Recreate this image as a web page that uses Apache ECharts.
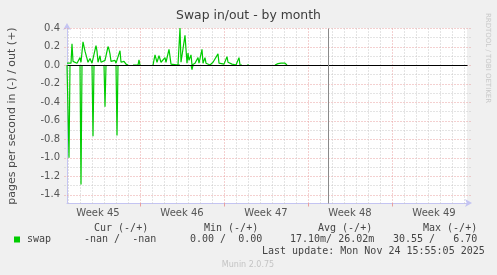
<!DOCTYPE html>
<html>
<head>
<meta charset="utf-8">
<script src="https://cdn.jsdelivr.net/npm/echarts@6/dist/echarts.min.js"></script>
<style>
html,body{margin:0;padding:0;background:#f0f0f0;}
#c{width:497px;height:275px;}
</style>
</head>
<body>
<div id="c"></div>
<script>
// ---- data (x = hours since Mon 3 Nov 2025 00:00, start of Week 45) ----
const firstWeek = 45;
const weekLabels = ['Week 45', 'Week 46', 'Week 47', 'Week 48', 'Week 49'];
const yTickLabels = [-1.4, -1.2, -1.0, -0.8, -0.6, -0.4, -0.2, 0.0, 0.2, 0.4];
const xStart = 22, xEnd = 822;        // visible time window (hours)
const yMin = -1.49, yMax = 0.4;
const nowMarker = 544;                 // vertical rule (hours)

// swap out (+), pages per second
const outHours = [22,26,30,32,34,38,42,46,48,50,54,58,60,64,68,72,76,80,82,84,88,90,94,98,100,104,106,108,110,114,118,120,124,128,130,132,136,140,144,146,
  154,164,166,168,170,
  194,198,202,206,210,214,218,220,224,226,230,234,244,246,248,250,252,254,258,262,264,266,268,270,272,274,278,282,284,286,290,292,294,298,300,304,308,314,318,324,326,330,336,340,342,344,348,352,360,364,366,368,372,374,
  382,384,386,388,
  438,440,444,448,450,454,458,460,462];
const outRate = [0.02,0.03,0.02,0.23,0.04,0.03,0.02,0.03,0.08,0.03,0.25,0.15,0.14,0.03,0.07,0.02,0.02,0.21,0.15,0.03,0.10,0.03,0.02,0.05,0.03,0.20,0.17,0.12,0.04,0.02,0.05,0.02,0.04,0.155,0.03,0.02,0.04,0.01,0,null,
  0,0,0.055,0,null,
  0,0.11,0.03,0.10,0.03,0.04,0.08,0.03,0.05,0.17,0.01,0,0,0.02,0.40,0.03,0.04,0.03,0.32,0.02,0.13,0.05,0.04,0.11,0,0.01,0.02,0.02,0.08,0.02,0.03,0.17,0.02,0.08,0.02,0.01,0,0.03,0.02,0.12,0.02,0.01,0.01,0.02,0.09,0.03,0.03,0.01,0,0.02,0.08,0,0,null,
  0,0.015,0,null,
  0,0.01,0.015,0.01,0.02,0.015,0.02,0.01,0];

// swap in (-), pages per second (drawn below zero)
const inHours = [22,24,26,28,30, 48,50,52,54, 72,74,76,78, 96,98,100,102, 120,122,124,126, 244,246,248,250, 270,272,274];
const inRate  = [0,0,1.00,0,null, 0,1.29,0,null, 0,0.77,0,null, 0,0.45,0,null, 0,0.76,0,null, 0,0.01,0,null, 0,0.05,0];

// legend statistics
const legendName = 'swap';
const statHeaders = ['Cur (-/+)', 'Min (-/+)', 'Avg (-/+)', 'Max (-/+)'];
const statValues = ['-nan /  -nan', '0.00 /  0.00', '17.10m/ 26.02m', '30.55 /   6.70'];
const lastUpdate = 'Last update: Mon Nov 24 15:55:05 2025';

// ---- build ----
const outData = outHours.map((h, i) => [h, outRate[i]]);
const inData = inHours.map((h, i) => [h, inRate[i] == null ? null : -inRate[i]]);
const weekCenters = weekLabels.map((_, i) => 168 * i + 84);

const gridData = [];
for (let t = -14; t <= 4; t++) gridData.push([xStart, t / 10, (t % 2 === 0) ? 1 : 0]);        // horizontal
for (let h = 24; h < xEnd; h += 24) gridData.push([h, 0, (h % 168 === 0) ? 3 : 2]);           // vertical

const AXIS = '#c4c4f2', MINOR = '#c9c9c9', MAJOR = '#e8a0a0';

const chart = echarts.init(document.getElementById('c'), null, {renderer: 'canvas'});
const mono = '"DejaVu Sans Mono", monospace';
const sans = '"DejaVu Sans", sans-serif';
const colX = [94, 204, 318, 423];
const valX = [84, 190, 290, 393];

const graphics = [
  {type:'text', left:'center', top: 10, style:{text:'Swap in/out - by month', font:'12.4px ' + sans, fill:'#3c3c3c'}},
  {type:'text', x:12, y:116, rotation:Math.PI/2, style:{text:'pages per second in (-) / out (+)', font:'11px ' + sans, fill:'#4a4a4a', align:'center', verticalAlign:'middle'}},
  {type:'text', x:488, y:58, rotation:-Math.PI/2, style:{text:'RRDTOOL / TOBI OETIKER', font:'7px ' + sans, fill:'#c8c8c8', align:'center', verticalAlign:'middle'}},
  {type:'rect', shape:{x:14, y:236.5, width:6, height:6}, style:{fill:'#00cc00'}},
  {type:'text', x:27, y:239.5, style:{text:legendName, font:'10px ' + mono, fill:'#444', verticalAlign:'middle'}},
  {type:'text', x:262, y:251, style:{text:lastUpdate, font:'10px ' + mono, fill:'#444', verticalAlign:'middle'}},
  {type:'text', x:248, y:264.5, style:{text:'Munin 2.0.75', font:'8px ' + sans, fill:'#c4c4c4', align:'center', verticalAlign:'middle'}}
];
statHeaders.forEach((s, i) => graphics.push({type:'text', x:colX[i], y:228, style:{text:s, font:'10px ' + mono, fill:'#444', verticalAlign:'middle'}}));
statValues.forEach((s, i) => graphics.push({type:'text', x:valX[i], y:239.5, style:{text:s, font:'10px ' + mono, fill:'#444', verticalAlign:'middle'}}));

chart.setOption({
  backgroundColor: '#f0f0f0',
  animation: false,
  grid: {left: 67, top: 28, width: 400, height: 175, show: true, backgroundColor: '#ffffff', borderWidth: 0},
  xAxis: {
    type: 'value', min: xStart, max: xEnd,
    axisLine: {show: true, onZero: false, lineStyle: {color: AXIS, width: 1}, symbol: ['none', 'arrow'], symbolSize: [6, 7], symbolOffset: [0, 5]},
    axisTick: {show: true, customValues: [168, 336, 504, 672], length: 3, lineStyle: {color: MAJOR}},
    axisLabel: {customValues: weekCenters, formatter: v => 'Week ' + (firstWeek + Math.floor(v / 168)), color: '#555', fontFamily: 'DejaVu Sans', fontSize: 10, margin: 5},
    splitLine: {show: false}
  },
  yAxis: {
    type: 'value', min: yMin, max: yMax,
    axisLine: {show: true, onZero: false, lineStyle: {color: AXIS, width: 1}, symbol: ['none', 'arrow'], symbolSize: [6, 7], symbolOffset: [0, 5]},
    axisTick: {show: false},
    axisLabel: {customValues: yTickLabels, formatter: v => v.toFixed(1), color: '#555', fontFamily: 'DejaVu Sans', fontSize: 10, margin: 7},
    splitLine: {show: false}
  },
  graphic: graphics,
  series: [
    {
      type: 'custom', silent: true, clip: false, z: 1, data: gridData,
      renderItem: (params, api) => {
        const k = api.value(2);
        let p1, p2;
        if (k < 2) { const v = api.value(1); p1 = api.coord([xStart, v]); p2 = api.coord([xEnd, v]); p1[0] -= 3; p2[0] += 3; }
        else { const h = api.value(0); p1 = api.coord([h, yMin]); p2 = api.coord([h, yMax]); p1[1] += (k === 3 ? 3 : 0); }
        const major = (k === 1 || k === 3);
        return {type: 'line', shape: {x1: Math.round(p1[0]) + 0.5, y1: Math.round(p1[1]) + 0.5, x2: Math.round(p2[0]) + 0.5, y2: Math.round(p2[1]) + 0.5},
          style: {stroke: major ? MAJOR : MINOR, lineWidth: 1, lineDash: [1, 2]}};
      }
    },
    {type: 'line', name: 'out', data: outData, showSymbol: false, connectNulls: false, z: 3,
     lineStyle: {color: '#00cc00', width: 1.2}, itemStyle: {color: '#00cc00'}},
    {type: 'line', name: 'in', data: inData, showSymbol: false, connectNulls: false, z: 3,
     lineStyle: {color: '#00cc00', width: 1.2}, itemStyle: {color: '#00cc00'}},
    {
      type: 'custom', silent: true, clip: false, z: 5, data: [[xStart, 0, 0], [nowMarker, 0, 1]],
      renderItem: (params, api) => {
        const k = api.value(2);
        let p1, p2;
        if (k === 0) { p1 = api.coord([xStart, 0]); p2 = api.coord([xEnd, 0]); }
        else { const h = api.value(0); p1 = api.coord([h, yMin]); p2 = api.coord([h, yMax]); }
        return {type: 'line', shape: {x1: Math.round(p1[0]) + 0.5, y1: Math.round(p1[1]) + 0.5, x2: Math.round(p2[0]) + 0.5, y2: Math.round(p2[1]) + 0.5},
          style: {stroke: k === 0 ? '#000000' : '#8a8a8a', lineWidth: 1}};
      }
    }
  ]
});
</script>
</body>
</html>
